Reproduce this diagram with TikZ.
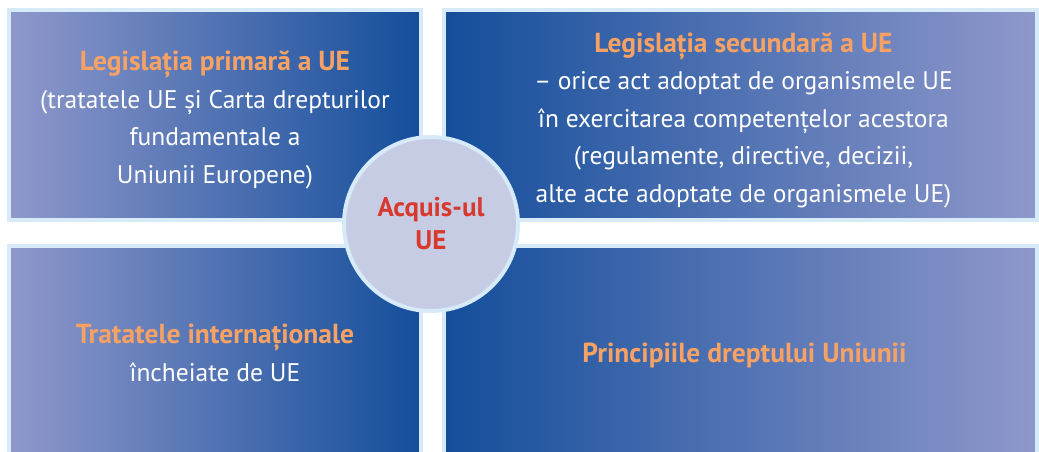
\documentclass[tikz,border=0pt]{standalone}
\usepackage{fontspec}
\setmainfont{PT Sans}
\usepackage{xcolor}
\usetikzlibrary{positioning}

\definecolor{darkblue}{HTML}{144E9B}
\definecolor{paleblue}{HTML}{8F98CB}
\definecolor{rimblue}{HTML}{D6EAF7}
\definecolor{discfill}{HTML}{C7CCE5}
\definecolor{titleorange}{HTML}{F7A264}
\definecolor{acqred}{HTML}{D9382C}

\newcommand{\paneltitle}[1]{{\color{titleorange}\fontsize{27.5}{37.5}\selectfont\bfseries #1}}

\begin{document}
\begin{tikzpicture}[x=1pt, y=-1pt,
    panel/.style={draw=rimblue, line width=4pt, inner sep=0pt},
    panelL/.style={panel, left color=paleblue, right color=darkblue},
    panelR/.style={panel, left color=darkblue, right color=paleblue},
    panelText/.style={text=white, align=center, inner sep=0pt,
        font=\fontsize{25.5}{37.5}\selectfont},
    hub/.style={circle, draw=rimblue, line width=4pt, fill=discfill,
        minimum size=174pt, inner sep=0pt, align=center,
        text=acqred, font=\fontsize{27}{33}\selectfont\bfseries}]

\useasboundingbox (0,0) rectangle (1039,451);
\clip (0,0) rectangle (1039,451);

% Top row
\node[panelL, minimum width=412pt, minimum height=210pt] (primary) at (215,115) {};
\node[panelR, minimum width=593pt, minimum height=210pt] (secondary) at (740.5,115) {};

% Bottom row (runs past the lower edge)
\node[panelL, minimum width=412pt, minimum height=214pt] (treaties) at (215,353) {};
\node[panelR, minimum width=593pt, minimum height=214pt] (principles) at (740.5,353) {};

% Texts
\node[panelText, yshift=-5pt] (primary-text) at (primary.center)
  {\paneltitle{Legislația primară a UE}\\
   (tratatele UE și Carta drepturilor\\
   fundamentale a\\
   Uniunii Europene)};
\node[panelText, yshift=-5pt, xshift=3pt] (secondary-text) at (secondary.center)
  {\paneltitle{Legislația secundară a UE}\\
   – orice act adoptat de organismele UE\\
   în exercitarea competențelor acestora\\
   (regulamente, directive, decizii,\\
   alte acte adoptate de organismele UE)};
\node[panelText] (treaties-text) at (treaties.center)
  {\paneltitle{Tratatele internaționale}\\
   încheiate de UE};
\node[panelText, yshift=-2pt, xshift=4pt] (principles-text) at (principles.center)
  {\paneltitle{Principiile dreptului Uniunii}};

% Centre disc
\node[hub] (acquis) at (431,224) {Acquis-ul\\UE};

\end{tikzpicture}
\end{document}
